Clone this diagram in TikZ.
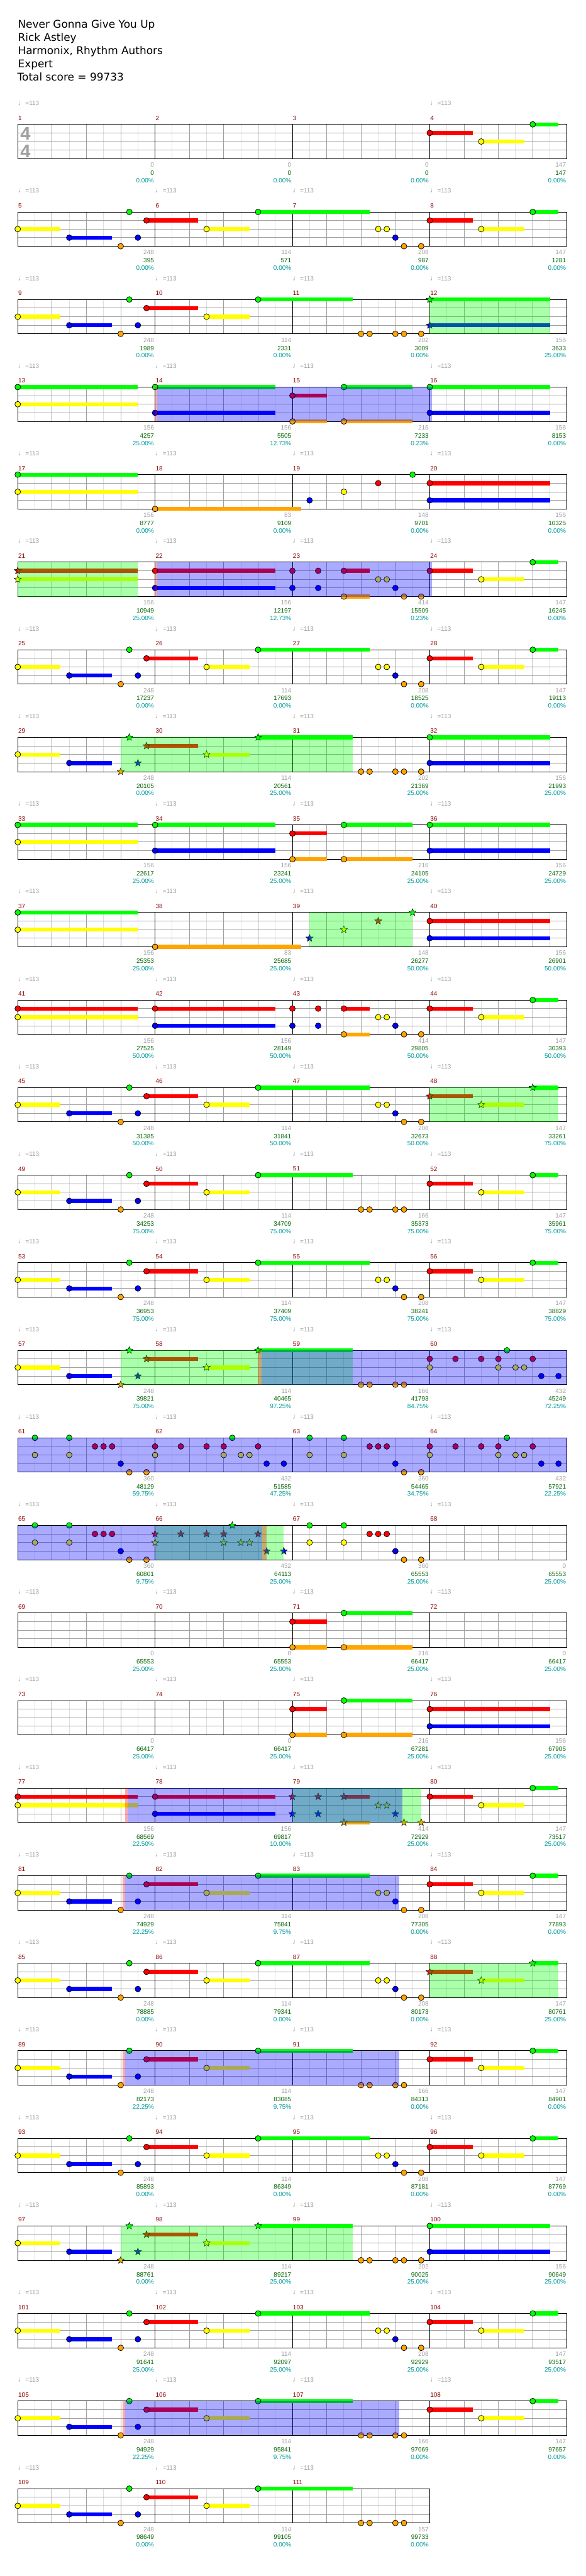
\documentclass[tikz,border=0pt]{standalone}
\usepackage{fontspec}
\setmainfont{DejaVu Sans}
\newfontfamily\lib{Liberation Sans}
\usetikzlibrary{shapes.geometric}
\definecolor{ng}{RGB}{0,255,0}
\definecolor{nr}{RGB}{255,0,0}
\definecolor{ny}{RGB}{255,255,0}
\definecolor{nb}{RGB}{0,0,255}
\definecolor{no}{RGB}{255,165,0}
\definecolor{gla}{RGB}{222,222,222}
\definecolor{glb}{RGB}{160,160,160}
\definecolor{mred}{RGB}{139,0,0}
\definecolor{sgreen}{RGB}{0,100,0}
\definecolor{pcyan}{RGB}{0,155,155}
\tikzset{
 hb/.style={gla,line width=0.5pt},
 bt/.style={glb,line width=0.5pt},
 ms/.style={black,line width=0.5pt},
 notec/.style={draw=black,line width=0.4pt},
 smallf/.style={font=\lib\fontsize{5.5}{6}\selectfont,inner sep=0pt},
 mnum/.style={smallf,text=mred,anchor=west},
 tnum/.style={smallf,text=glb,anchor=base west},
 gnum/.style={smallf,text=glb,anchor=east},
 snum/.style={smallf,text=sgreen,anchor=east},
 pnum/.style={smallf,text=pcyan,anchor=east},
 tsig/.style={font=\lib\bfseries\fontsize{16}{16}\selectfont,text=glb,inner sep=0pt},
 hdr/.style={font=\fontsize{9.3}{11}\selectfont,anchor=base west,inner sep=0pt},
 rowsc/.style={shift={(15.5pt,{-108.65pt-76.5pt*(#1-1)})},x=30pt,y=-7.5pt},
}
\newcommand\Nt[3]{\filldraw[fill=#1,notec] (#2,#3) circle[radius=2.5pt];}
\newcommand\Su[4]{\draw[#1,line width=3.5pt] (#2,#4)--(#3,#4);}
\newcommand\Sn[4]{\Su{#1}{#2}{#3}{#4}\Nt{#1}{#2}{#4}}
\newcommand\St[3]{\node[star,star points=5,star point ratio=2.3,minimum size=6.5pt,inner sep=0pt,draw=black,line width=0.3pt,fill=#1] at (#2,#3) {};}
\newcommand\Ss[4]{\Su{#1}{#2}{#3}{#4}\St{#1}{#2}{#4}}
\newcommand\Gr[2]{\fill[ng,opacity=0.333] (#1,0) rectangle (#2,4);}
\newcommand\Bl[2]{\fill[nb,opacity=0.333] (#1,0) rectangle (#2,4);}
\newcommand\Rs[2]{\fill[nr,opacity=0.333] (#1,0) rectangle (#2,4);}
\newcommand\Grid[1]{%
 \foreach \i in {0.5,1.5,...,#1} \draw[hb] (\i,0)--(\i,4);
 \foreach \i in {1,...,#1} \draw[bt] (\i,0)--(\i,4);
 \foreach \j in {1,2,3} \draw[bt] (0,\j)--(#1,\j);
 \foreach \i in {0,4,...,#1} \draw[ms] (\i,0)--(\i,4);
 \draw[ms] (0,0) rectangle (#1,4);}
\newcommand\Mn[2]{\foreach \k in {1,...,#2}{\pgfmathtruncatemacro\mm{#1+\k-1}\node[mnum] at ({4*(\k-1)+0.01},-0.73) {\mm};}}
\newcommand\Tp[1]{\foreach \k in {#1}{\node[tnum] at (4*\k,-2.2) {{\fontsize{6.5}{7}\selectfont ♩}=113};}}
\newcommand\Nums[1]{\foreach \g/\s/\p [count=\k from 0] in {#1}{%
 \node[gnum] at (4*\k+3.975,4.73) {\g};
 \node[snum] at (4*\k+3.975,5.67) {\s};
 \node[pnum] at (4*\k+3.975,6.53) {\p\%};}}
% patterns
\newcommand\Pa{\Sn{ny}{0}{1.25}{2}\Sn{nb}{1.5}{2.75}{3}\Nt{no}{3}{4}\Nt{ng}{3.25}{0}\Nt{nb}{3.5}{3}\Sn{nr}{3.75}{5.25}{1}\Sn{ny}{5.5}{6.75}{2}}
\newcommand\PaStar{\Sn{ny}{0}{1.25}{2}\Sn{nb}{1.5}{2.75}{3}\St{no}{3}{4}\St{ng}{3.25}{0}\St{nb}{3.5}{3}\Ss{nr}{3.75}{5.25}{1}\Ss{ny}{5.5}{6.75}{2}}
\newcommand\Pb{\Nt{ny}{10.5}{2}\Nt{ny}{10.75}{2}\Nt{nb}{11}{3}\Nt{no}{11.25}{4}\Nt{no}{11.75}{4}}
\newcommand\PbStar{\St{ny}{10.5}{2}\St{ny}{10.75}{2}\St{nb}{11}{3}\St{no}{11.25}{4}\St{no}{11.75}{4}}
\newcommand\Pc{\Sn{nr}{12}{13.25}{1}\Sn{ny}{13.5}{14.75}{2}\Sn{ng}{15}{15.75}{0}}
\newcommand\PcStar{\Ss{nr}{12}{13.25}{1}\Ss{ny}{13.5}{14.75}{2}\Ss{ng}{15}{15.75}{0}}
\newcommand\Por{\Nt{no}{10}{4}\Nt{no}{10.25}{4}\Nt{no}{11}{4}\Nt{no}{11.25}{4}}
\newcommand\Pd{\Sn{ng}{0}{3.5}{0}\Sn{ny}{0}{3.5}{2}\Sn{ng}{4}{7.5}{0}\Sn{nb}{4}{7.5}{3}\Sn{nr}{8}{9}{1}\Sn{no}{8}{9}{4}\Sn{ng}{9.5}{11.5}{0}\Sn{no}{9.5}{11.5}{4}\Sn{ng}{12}{15.5}{0}\Sn{nb}{12}{15.5}{3}}
\newcommand\Pe{\Sn{nr}{4}{7.5}{1}\Sn{nb}{4}{7.5}{3}\Nt{nr}{8}{1}\Nt{nb}{8}{3}\Nt{nr}{8.75}{1}\Nt{nb}{8.75}{3}\Sn{nr}{9.5}{10.25}{1}\Sn{no}{9.5}{10.25}{4}\Pb\Pc}
\newcommand\PeStar{\Sn{nr}{4}{7.5}{1}\Sn{nb}{4}{7.5}{3}\St{nr}{8}{1}\St{nb}{8}{3}\St{nr}{8.75}{1}\St{nb}{8.75}{3}\Ss{nr}{9.5}{10.25}{1}\Ss{no}{9.5}{10.25}{4}\PbStar\Pc}
\newcommand\Pq[1]{\begin{scope}[shift={(#1,0)}]\Nt{ng}{.5}{0}\Nt{ny}{.5}{2}\Nt{ng}{1.5}{0}\Nt{ny}{1.5}{2}\Nt{nr}{2.25}{1}\Nt{nr}{2.5}{1}\Nt{nr}{2.75}{1}\Nt{nb}{3}{3}\Nt{no}{3.25}{4}\Nt{no}{3.75}{4}\end{scope}}
\newcommand\Ps[1]{\begin{scope}[shift={(#1,0)}]\Nt{nr}{0}{1}\Nt{ny}{0}{2}\Nt{nr}{.75}{1}\Nt{nr}{1.5}{1}\Nt{nr}{2}{1}\Nt{ny}{2}{2}\Nt{ng}{2.25}{0}\Nt{ny}{2.5}{2}\Nt{ny}{2.75}{2}\Nt{nr}{3}{1}\Nt{nb}{3.25}{3}\Nt{nb}{3.75}{3}\end{scope}}
\newcommand\PsStar[1]{\begin{scope}[shift={(#1,0)}]\St{nr}{0}{1}\St{ny}{0}{2}\St{nr}{.75}{1}\St{nr}{1.5}{1}\St{nr}{2}{1}\St{ny}{2}{2}\St{ng}{2.25}{0}\St{ny}{2.5}{2}\St{ny}{2.75}{2}\St{nr}{3}{1}\St{nb}{3.25}{3}\St{nb}{3.75}{3}\end{scope}}
\newcommand\Prow{\Pa\Sn{ng}{7}{10.25}{0}\Pb\Pc}
\newcommand\Prowb{\Pa\Sn{ng}{7}{9.75}{0}\Por\Pc}
\begin{document}
\begin{tikzpicture}
\useasboundingbox (0,0) rectangle (512pt,-2250.5pt);
\fill[white] (0,0) rectangle (512pt,-2250.5pt);
\node[hdr] (t1) at (15.5pt,-24.65pt) {Never Gonna Give You Up};
\node[hdr] (t2) at (15.5pt,-36.2pt) {Rick Astley};
\node[hdr] (t3) at (15.5pt,-47.8pt) {Harmonix, Rhythm Authors};
\node[hdr] (t4) at (15.5pt,-59.2pt) {Expert};
\node[hdr] (t5) at (15pt,-70.8pt) {Total score = 99733};
% row 1
\begin{scope}[rowsc=1]\Grid{16}
\node[tsig] (ts1) at (0.225,1.1) {4};\node[tsig] (ts2) at (0.225,3.1) {4};
\Pc
\Mn{1}{4}\Tp{0,3}\Nums{0/0/0.00,0/0/0.00,0/0/0.00,147/147/0.00}\end{scope}
% row 2
\begin{scope}[rowsc=2]\Grid{16}\Prow
\Mn{5}{4}\Tp{0,1,2,3}\Nums{248/395/0.00,114/571/0.00,208/987/0.00,147/1281/0.00}\end{scope}
% row 3
\begin{scope}[rowsc=3]\Grid{16}\Pa\Sn{ng}{7}{9.75}{0}\Por\Nt{no}{11.75}{4}\Ss{ng}{12}{15.5}{0}\Ss{nb}{12}{15.5}{3}\Gr{12}{15.5}
\Mn{9}{4}\Tp{0,1,2,3}\Nums{248/1989/0.00,114/2331/0.00,202/3009/0.00,156/3633/25.00}\end{scope}
% row 4
\begin{scope}[rowsc=4]\Grid{16}\Pd\Rs{4}{4.07}\Bl{4.07}{12.07}
\Mn{13}{4}\Tp{0,1,2,3}\Nums{156/4257/25.00,156/5505/12.73,216/7233/0.23,156/8153/0.00}\end{scope}
% row 5
\begin{scope}[rowsc=5]\Grid{16}\Sn{ng}{0}{3.5}{0}\Sn{ny}{0}{3.5}{2}\Sn{no}{4}{8.25}{4}\Nt{nb}{8.5}{3}\Nt{ny}{9.5}{2}\Nt{nr}{10.5}{1}\Nt{ng}{11.5}{0}\Sn{nr}{12}{15.5}{1}\Sn{nb}{12}{15.5}{3}
\Mn{17}{4}\Tp{0,1,2,3}\Nums{156/8777/0.00,83/9109/0.00,148/9701/0.00,156/10325/0.00}\end{scope}
% row 6
\begin{scope}[rowsc=6]\Grid{16}\Ss{nr}{0}{3.5}{1}\Ss{ny}{0}{3.5}{2}\Pe\Gr{0}{3.5}\Rs{4}{4.07}\Bl{4.07}{12.07}
\Mn{21}{4}\Tp{0,1,2,3}\Nums{156/10949/25.00,156/12197/12.73,414/15509/0.23,147/16245/0.00}\end{scope}
% row 7
\begin{scope}[rowsc=7]\Grid{16}\Prow
\Mn{25}{4}\Tp{0,1,2,3}\Nums{248/17237/0.00,114/17693/0.00,208/18525/0.00,147/19113/0.00}\end{scope}
% row 8
\begin{scope}[rowsc=8]\Grid{16}\PaStar\Ss{ng}{7}{9.75}{0}\Por\Nt{no}{11.75}{4}\Sn{ng}{12}{15.5}{0}\Sn{nb}{12}{15.5}{3}\Gr{3}{9.75}
\Mn{29}{4}\Tp{0,1,2,3}\Nums{248/20105/0.00,114/20561/25.00,202/21369/25.00,156/21993/25.00}\end{scope}
% row 9
\begin{scope}[rowsc=9]\Grid{16}\Pd
\Mn{33}{4}\Tp{0,1,2,3}\Nums{156/22617/25.00,156/23241/25.00,216/24105/25.00,156/24729/25.00}\end{scope}
% row 10
\begin{scope}[rowsc=10]\Grid{16}\Sn{ng}{0}{3.5}{0}\Sn{ny}{0}{3.5}{2}\Sn{no}{4}{8.25}{4}\St{nb}{8.5}{3}\St{ny}{9.5}{2}\St{nr}{10.5}{1}\St{ng}{11.5}{0}\Sn{nr}{12}{15.5}{1}\Sn{nb}{12}{15.5}{3}\Gr{8.5}{11.5}
\Mn{37}{4}\Tp{0,1,2,3}\Nums{156/25353/25.00,83/25685/25.00,148/26277/50.00,156/26901/50.00}\end{scope}
% row 11
\begin{scope}[rowsc=11]\Grid{16}\Sn{nr}{0}{3.5}{1}\Sn{ny}{0}{3.5}{2}\Pe
\Mn{41}{4}\Tp{0,1,2,3}\Nums{156/27525/50.00,156/28149/50.00,414/29805/50.00,147/30393/50.00}\end{scope}
% row 12
\begin{scope}[rowsc=12]\Grid{16}\Pa\Sn{ng}{7}{10.25}{0}\Pb\PcStar\Gr{12}{15.75}
\Mn{45}{4}\Tp{0,1,2,3}\Nums{248/31385/50.00,114/31841/50.00,208/32673/50.00,147/33261/75.00}\end{scope}
% row 13
\begin{scope}[rowsc=13]\Grid{16}\Prowb
\Mn{49}{4}\Tp{0,1,2,3}\Nums{248/34253/75.00,114/34709/75.00,166/35373/75.00,147/35961/75.00}\end{scope}
% row 14
\begin{scope}[rowsc=14]\Grid{16}\Prow
\Mn{53}{4}\Tp{0,1,2,3}\Nums{248/36953/75.00,114/37409/75.00,208/38241/75.00,147/38829/75.00}\end{scope}
% row 15
\begin{scope}[rowsc=15]\Grid{16}\PaStar\Ss{ng}{7}{9.75}{0}\Por\Ps{12}\Gr{3}{9.75}\Rs{7}{7.1}\Bl{7.1}{16}
\Mn{57}{4}\Tp{0,1,2,3}\Nums{248/39821/75.00,114/40465/97.25,166/41793/84.75,432/45249/72.25}\end{scope}
% row 16
\begin{scope}[rowsc=16]\Grid{16}\Pq{0}\Ps{4}\Pq{8}\Ps{12}\Bl{0}{16}
\Mn{61}{4}\Tp{0,1,2,3}\Nums{360/48129/59.75,432/51585/47.25,360/54465/34.75,432/57921/22.25}\end{scope}
% row 17
\begin{scope}[rowsc=17]\Grid{16}\Pq{0}\PsStar{4}\Pq{8}\Gr{4}{7.75}\Bl{0}{7.12}\Rs{7.12}{7.24}
\Mn{65}{4}\Tp{0,1,2,3}\Nums{360/60801/9.75,432/64113/25.00,360/65553/25.00,0/65553/25.00}\end{scope}
% row 18
\begin{scope}[rowsc=18]\Grid{16}\Sn{nr}{8}{9}{1}\Sn{no}{8}{9}{4}\Sn{ng}{9.5}{11.5}{0}\Sn{no}{9.5}{11.5}{4}
\Mn{69}{4}\Tp{0,1,2,3}\Nums{0/65553/25.00,0/65553/25.00,216/66417/25.00,0/66417/25.00}\end{scope}
% row 19
\begin{scope}[rowsc=19]\Grid{16}\Sn{nr}{8}{9}{1}\Sn{no}{8}{9}{4}\Sn{ng}{9.5}{11.5}{0}\Sn{no}{9.5}{11.5}{4}\Sn{nr}{12}{15.5}{1}\Sn{nb}{12}{15.5}{3}
\Mn{73}{4}\Tp{0,1,2,3}\Nums{0/66417/25.00,0/66417/25.00,216/67281/25.00,156/67905/25.00}\end{scope}
% row 20
\begin{scope}[rowsc=20]\Grid{16}\Sn{nr}{0}{3.5}{1}\Sn{ny}{0}{3.5}{2}\PeStar\Gr{8}{11.75}\Rs{3.13}{3.2}\Bl{3.2}{11.2}
\Mn{77}{4}\Tp{0,1,2,3}\Nums{156/68569/22.50,156/69817/10.00,414/72929/25.00,147/73517/25.00}\end{scope}
% row 21
\begin{scope}[rowsc=21]\Grid{16}\Prow\Rs{3.05}{3.12}\Bl{3.12}{11.12}
\Mn{81}{4}\Tp{0,1,2,3}\Nums{248/74929/22.25,114/75841/9.75,208/77305/0.00,147/77893/0.00}\end{scope}
% row 22
\begin{scope}[rowsc=22]\Grid{16}\Pa\Sn{ng}{7}{10.25}{0}\Pb\PcStar\Gr{12}{15.75}
\Mn{85}{4}\Tp{0,1,2,3}\Nums{248/78885/0.00,114/79341/0.00,208/80173/0.00,147/80761/25.00}\end{scope}
% row 23
\begin{scope}[rowsc=23]\Grid{16}\Prowb\Rs{3.05}{3.12}\Bl{3.12}{11.12}
\Mn{89}{4}\Tp{0,1,2,3}\Nums{248/82173/22.25,114/83085/9.75,166/84313/0.00,147/84901/0.00}\end{scope}
% row 24
\begin{scope}[rowsc=24]\Grid{16}\Prow
\Mn{93}{4}\Tp{0,1,2,3}\Nums{248/85893/0.00,114/86349/0.00,208/87181/0.00,147/87769/0.00}\end{scope}
% row 25
\begin{scope}[rowsc=25]\Grid{16}\PaStar\Ss{ng}{7}{9.75}{0}\Por\Nt{no}{11.75}{4}\Sn{ng}{12}{15.5}{0}\Sn{nb}{12}{15.5}{3}\Gr{3}{9.75}
\Mn{97}{4}\Tp{0,1,2,3}\Nums{248/88761/0.00,114/89217/25.00,202/90025/25.00,156/90649/25.00}\end{scope}
% row 26
\begin{scope}[rowsc=26]\Grid{16}\Prow
\Mn{101}{4}\Tp{0,1,2,3}\Nums{248/91641/25.00,114/92097/25.00,208/92929/25.00,147/93517/25.00}\end{scope}
% row 27
\begin{scope}[rowsc=27]\Grid{16}\Prowb\Rs{3.05}{3.12}\Bl{3.12}{11.12}
\Mn{105}{4}\Tp{0,1,2,3}\Nums{248/94929/22.25,114/95841/9.75,166/97069/0.00,147/97657/0.00}\end{scope}
% row 28
\begin{scope}[rowsc=28]\Grid{12}\Pa\Sn{ng}{7}{9.75}{0}\Por
\Mn{109}{3}\Tp{0,1,2}\Nums{248/98649/0.00,114/99105/0.00,157/99733/0.00}\end{scope}
\end{tikzpicture}
\end{document}
